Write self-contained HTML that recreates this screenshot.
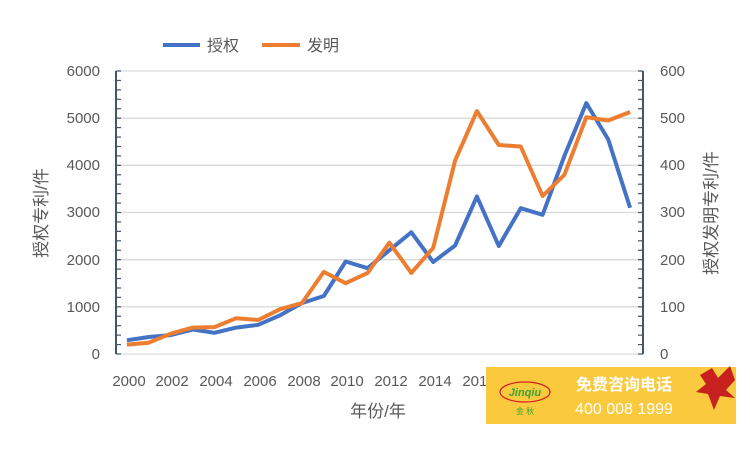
<!DOCTYPE html>
<html><head><meta charset="utf-8"><style>
body{margin:0;background:#fff;}
svg text{font-family:"Liberation Sans","Noto Sans CJK SC",sans-serif;fill:#595959;}
</style></head><body>
<svg width="750" height="450" xmlns="http://www.w3.org/2000/svg">
<g stroke="#d9d9d9" stroke-width="1.3">
<line x1="116" x2="642" y1="71" y2="71"/><line x1="116" x2="642" y1="118.2" y2="118.2"/>
<line x1="116" x2="642" y1="165.3" y2="165.3"/><line x1="116" x2="642" y1="212.5" y2="212.5"/>
<line x1="116" x2="642" y1="259.7" y2="259.7"/><line x1="116" x2="642" y1="306.8" y2="306.8"/>
<line x1="116" x2="642" y1="354" y2="354"/>
</g>
<g stroke="#44546a" stroke-width="2">
<line x1="116" x2="116" y1="71" y2="354"/>
<line x1="643" x2="643" y1="71" y2="354"/>
</g>
<g stroke="#44546a" stroke-width="1.2" id="ticks"></g>
<g font-size="15" text-anchor="end">
<text x="100" y="76">6000</text><text x="100" y="123">5000</text><text x="100" y="170">4000</text>
<text x="100" y="217">3000</text><text x="100" y="265">2000</text><text x="100" y="312">1000</text><text x="100" y="359">0</text>
</g>
<g font-size="15" text-anchor="start">
<text x="660" y="76">600</text><text x="660" y="123">500</text><text x="660" y="170">400</text>
<text x="660" y="217">300</text><text x="660" y="265">200</text><text x="660" y="312">100</text><text x="660" y="359">0</text>
</g>
<g font-size="15" text-anchor="middle">
<text x="129" y="386">2000</text><text x="172" y="386">2002</text><text x="216" y="386">2004</text>
<text x="260" y="386">2006</text><text x="304" y="386">2008</text><text x="347" y="386">2010</text>
<text x="391" y="386">2012</text><text x="435" y="386">2014</text><text x="479" y="386">2016</text>
</g>
<text x="378" y="417" font-size="17" text-anchor="middle">年份/年</text>
<text transform="translate(47,213) rotate(-90)" font-size="17" text-anchor="middle">授权专利/件</text>
<text transform="translate(717,213) rotate(-90)" font-size="17" text-anchor="middle">授权发明专利/件</text>
<line x1="163" x2="200" y1="45" y2="45" stroke="#4472c4" stroke-width="4"/>
<text x="207" y="51" font-size="16">授权</text>
<line x1="262" x2="300" y1="45" y2="45" stroke="#ed7d31" stroke-width="4"/>
<text x="307" y="51" font-size="16">发明</text>
<polyline id="b" fill="none" stroke="#4472c4" stroke-width="4" stroke-linejoin="round"/>
<polyline id="o" fill="none" stroke="#ed7d31" stroke-width="4" stroke-linejoin="round"/>
<rect x="486" y="367" width="250" height="57" fill="#fbc93d"/>
<ellipse cx="525" cy="392" rx="25" ry="10" fill="none" stroke="#d42020" stroke-width="1.2"/>
<text x="525" y="396" font-size="11" font-style="italic" font-weight="bold" text-anchor="middle" style="fill:#3aa33a">Jinqiu</text>
<text x="525" y="414" font-size="8" text-anchor="middle" style="fill:#3aa33a">金 秋</text>
<text x="624" y="390" font-size="16" font-weight="bold" text-anchor="middle" style="fill:#fff">免费咨询电话</text>
<text x="624" y="414" font-size="16" text-anchor="middle" style="fill:#fff">400 008 1999</text>
<polygon points="700,375 712,368 718,378 730,366 735,380 726,390 735,398 720,396 714,410 708,394 696,392 706,384" fill="#c8201e"/>
</svg>
<script>
const B=[290,360,400,520,450,560,620,820,1080,1230,1960,1820,2200,2580,1950,2300,3340,2290,3090,2950,4200,5320,4550,3100];
const O=[200,240,430,560,570,760,720,950,1080,1740,1500,1720,2360,1720,2250,4100,5150,4430,4400,3350,3800,5020,4950,5130];
const f=a=>a.map((v,i)=>(116+(i+0.5)*21.875).toFixed(1)+','+(354-v*0.04717).toFixed(1)).join(' ');
document.getElementById('b').setAttribute('points',f(B));
document.getElementById('o').setAttribute('points',f(O));
let t='';for(let i=0;i<=30;i++){const y=354-i*9.433;t+=`<line x1="116" x2="121" y1="${y}" y2="${y}"/><line x1="638" x2="643" y1="${y}" y2="${y}"/>`;}
document.getElementById('ticks').innerHTML=t;
</script>
</body></html>
